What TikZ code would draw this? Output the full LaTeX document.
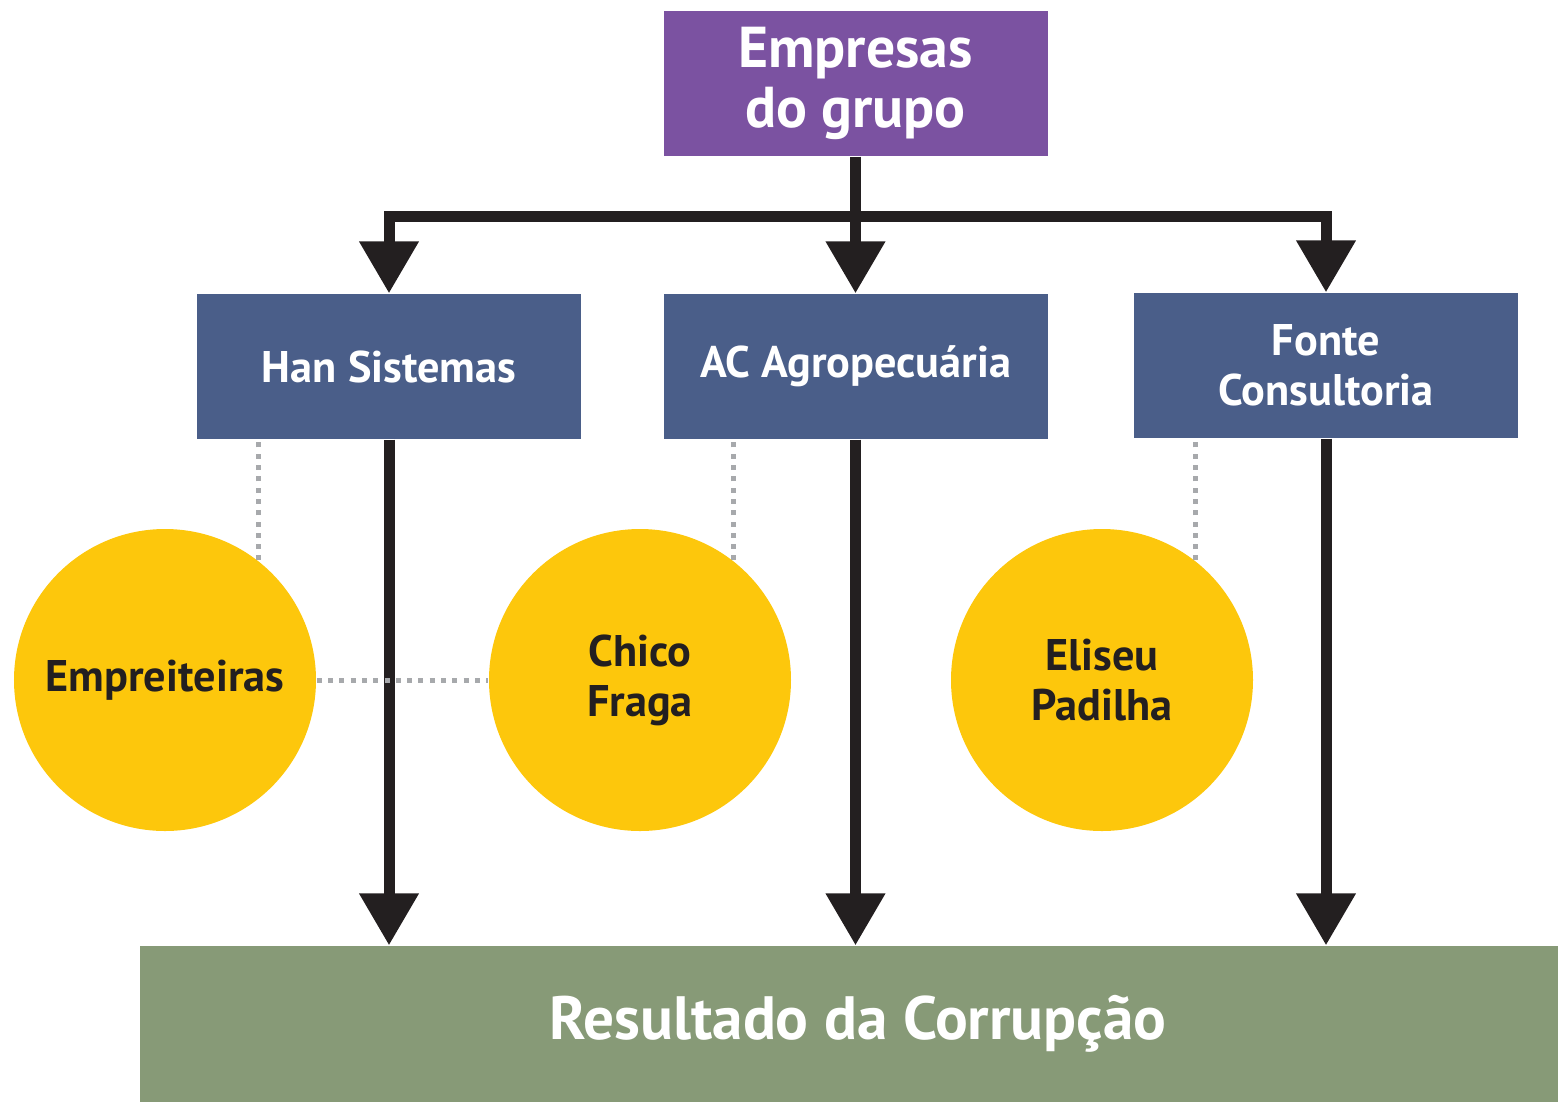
\documentclass[tikz,border=0pt]{standalone}
\usepackage{fontspec}
\setmainfont{PT Sans}
\usetikzlibrary{arrows.meta}
\definecolor{roxo}{HTML}{7B52A1}
\definecolor{azul}{HTML}{4A5E89}
\definecolor{verde}{HTML}{879A77}
\definecolor{amarelo}{HTML}{FDC70C}
\definecolor{preto}{HTML}{231F20}
\definecolor{cinza}{HTML}{A7A9AC}
\begin{document}
\begin{tikzpicture}[
  empresa/.style={fill=azul,text=white,minimum width=3.84cm,minimum height=1.45cm,inner sep=0pt,align=center,font=\bfseries\fontsize{12.6}{14.2}\selectfont},
  pessoa/.style={circle,fill=amarelo,text=preto,minimum size=3.02cm,inner sep=0pt,align=center,font=\bfseries\fontsize{12.6}{14.2}\selectfont},
  linha/.style={draw=preto,line width=0.11cm},
  seta/.style={linha,-{Triangle[width=0.57cm,length=0.52cm]}},
  pontilhado/.style={draw=cinza,line width=0.05cm,dash pattern=on 0.05cm off 0.063cm}
]
\useasboundingbox (0,0) rectangle (15.58,-11.02);

\node[fill=roxo,text=white,minimum width=3.84cm,minimum height=1.45cm,inner sep=0pt,align=center,font=\bfseries\fontsize{16.4}{17}\selectfont] (grupo) at (8.555,-0.835) {Empresas\\do grupo};
\node[empresa] (han) at (3.89,-3.665) {Han Sistemas};
\node[empresa] (ac) at (8.555,-3.665) {AC Agropecuária};
\node[empresa] (fonte) at (13.26,-3.655) {Fonte\\Consultoria};
\node[fill=verde,text=white,minimum width=14.18cm,minimum height=1.56cm,inner sep=0pt,font=\bfseries\fontsize{17.4}{17}\selectfont] (resultado) at (8.49,-10.24) {\hspace{0.18cm}Resultado da Corrupção};

\node[pessoa] (empreiteiras) at (1.65,-6.80) {Empreiteiras};
\node[pessoa] (chico) at (6.40,-6.80) {Chico\\Fraga};
\node[pessoa] (eliseu) at (11.02,-6.80) {Eliseu\\Padilha};

\coordinate (divisao) at (8.555,-2.16);
\draw[linha] (grupo.south) -- (divisao);
\draw[seta] (divisao) -| (han.north);
\draw[seta] (divisao) -- (ac.north);
\draw[seta] (divisao) -| (fonte.north);

\foreach \e in {han,ac,fonte}
{
    \draw[seta] (\e.south) -- (\e.south |- resultado.north);
}

\foreach \p/\e in {empreiteiras/han,chico/ac,eliseu/fonte}
{
    \draw[pontilhado] (\p.52.7) -- (\p.52.7 |- \e.south);
}
\draw[pontilhado] (empreiteiras.east) -- (chico.west);

\end{tikzpicture}
\end{document}
